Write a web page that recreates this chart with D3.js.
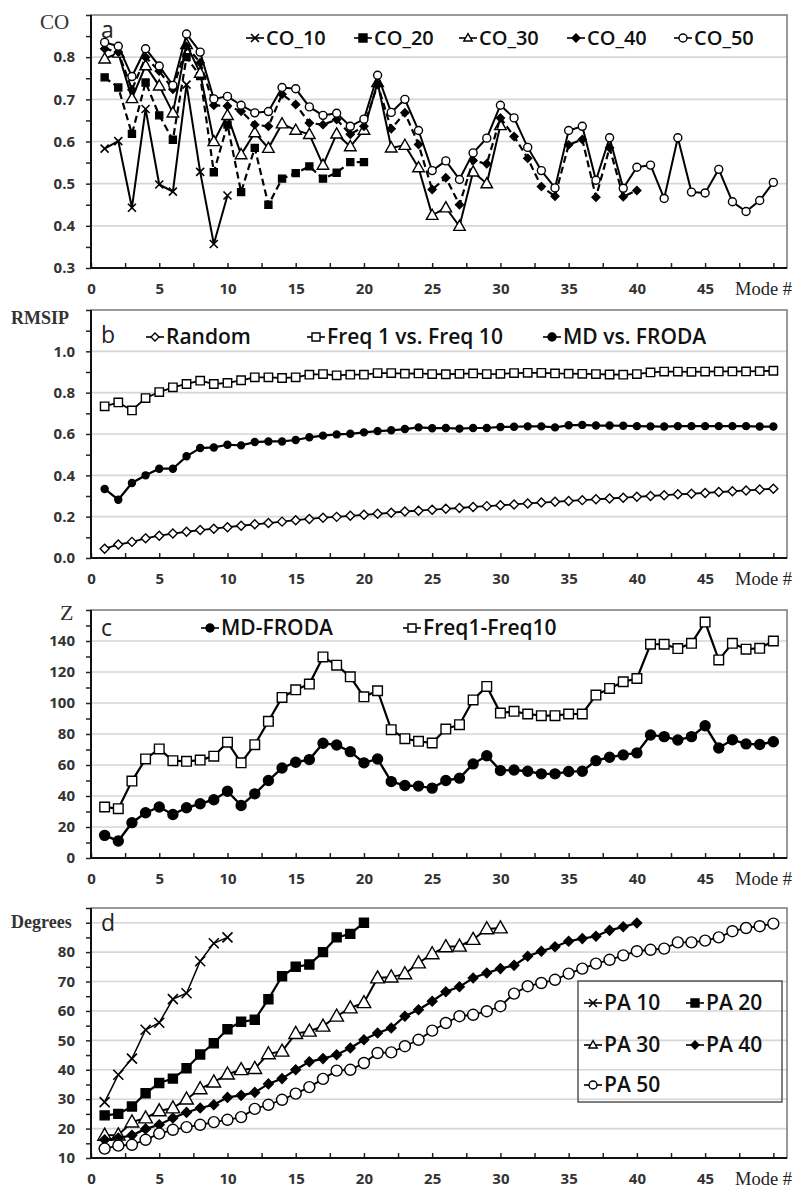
<!DOCTYPE html>
<html lang="en">
<head>
<meta charset="UTF-8">
<title>CO / RMSIP / Z / Degrees</title>
<style>
body { margin: 0; background: #fff; }
</style>
</head>
<body>
<div id="chart"></div>
<script src="https://d3js.org/d3.v7.min.js"></script>
<script>
// ---------- data ----------
const xTicks = [0, 5, 10, 15, 20, 25, 30, 35, 40, 45];
const xTitle = 'Mode #';

// panel a
const coTicks = [0.3, 0.4, 0.5, 0.6, 0.7, 0.8];
const coNames = ['CO_10', 'CO_20', 'CO_30', 'CO_40', 'CO_50'];
const co10 = [0.583, 0.601, 0.443, 0.677, 0.498, 0.481, 0.735, 0.528, 0.357, 0.472];
const co20 = [0.752, 0.728, 0.618, 0.740, 0.662, 0.604, 0.800, 0.755, 0.527, 0.640,
              0.480, 0.585, 0.450, 0.512, 0.525, 0.541, 0.512, 0.526, 0.551, 0.551];
const co30 = [0.796, 0.810, 0.702, 0.780, 0.732, 0.668, 0.830, 0.762, 0.600, 0.662,
              0.569, 0.621, 0.584, 0.642, 0.627, 0.617, 0.544, 0.618, 0.588, 0.627,
              0.740, 0.585, 0.591, 0.538, 0.425, 0.443, 0.399, 0.528, 0.500, 0.638];
const co40 = [0.820, 0.812, 0.723, 0.800, 0.767, 0.724, 0.826, 0.787, 0.686, 0.684,
              0.672, 0.640, 0.636, 0.712, 0.688, 0.644, 0.640, 0.652, 0.617, 0.636,
              0.735, 0.630, 0.668, 0.593, 0.486, 0.514, 0.450, 0.555, 0.547, 0.656,
              0.612, 0.560, 0.493, 0.470, 0.592, 0.605, 0.468, 0.585, 0.469, 0.484];
const co50 = [0.835, 0.826, 0.754, 0.820, 0.779, 0.733, 0.855, 0.812, 0.701, 0.707,
              0.686, 0.668, 0.671, 0.728, 0.725, 0.682, 0.662, 0.667, 0.636, 0.653,
              0.757, 0.669, 0.700, 0.626, 0.531, 0.554, 0.510, 0.573, 0.608, 0.686,
              0.656, 0.586, 0.531, 0.490, 0.626, 0.636, 0.508, 0.609, 0.489, 0.539,
              0.544, 0.465, 0.609, 0.480, 0.478, 0.534, 0.457, 0.434, 0.460, 0.503];

// panel b
const rmsipTicks = [0.0, 0.2, 0.4, 0.6, 0.8, 1.0];
const rmsipNames = ['Random', 'Freq 1 vs. Freq 10', 'MD vs. FRODA'];
const rmsipRandom = [0.045, 0.065, 0.078, 0.095, 0.108, 0.118, 0.127, 0.135, 0.142, 0.149,
                     0.156, 0.163, 0.169, 0.176, 0.183, 0.189, 0.195, 0.199, 0.204, 0.209,
                     0.214, 0.219, 0.225, 0.229, 0.234, 0.238, 0.242, 0.247, 0.251, 0.255,
                     0.259, 0.264, 0.268, 0.272, 0.276, 0.280, 0.284, 0.288, 0.292, 0.296,
                     0.300, 0.304, 0.308, 0.311, 0.315, 0.319, 0.323, 0.327, 0.331, 0.335];
const rmsipFreq = [0.734, 0.753, 0.714, 0.774, 0.803, 0.826, 0.842, 0.858, 0.842, 0.847,
                   0.860, 0.874, 0.874, 0.871, 0.874, 0.887, 0.890, 0.884, 0.887, 0.887,
                   0.895, 0.895, 0.892, 0.893, 0.890, 0.889, 0.891, 0.893, 0.890, 0.891,
                   0.895, 0.896, 0.896, 0.893, 0.892, 0.891, 0.890, 0.888, 0.887, 0.890,
                   0.898, 0.902, 0.902, 0.901, 0.902, 0.903, 0.903, 0.903, 0.904, 0.906];
const rmsipMdFroda = [0.334, 0.282, 0.363, 0.400, 0.432, 0.432, 0.492, 0.532, 0.535, 0.548,
                      0.545, 0.561, 0.564, 0.564, 0.571, 0.584, 0.592, 0.598, 0.601, 0.608,
                      0.614, 0.618, 0.624, 0.632, 0.628, 0.629, 0.626, 0.629, 0.629, 0.634,
                      0.635, 0.637, 0.637, 0.632, 0.642, 0.644, 0.641, 0.641, 0.640, 0.638,
                      0.637, 0.636, 0.638, 0.638, 0.638, 0.638, 0.638, 0.638, 0.636, 0.636];

// panel c
const zTicks = [0, 20, 40, 60, 80, 100, 120, 140];
const zNames = ['MD-FRODA', 'Freq1-Freq10'];
const zMdFroda = [14.6, 11.0, 22.8, 29.2, 32.9, 28.1, 32.4, 35.0, 37.6, 43.1,
                  33.9, 41.4, 50.0, 58.1, 61.8, 63.5, 74.0, 72.9, 68.6, 61.4,
                  63.9, 49.3, 46.8, 46.4, 45.1, 50.0, 51.5, 60.7, 66.0, 56.4,
                  56.8, 56.0, 54.3, 54.3, 55.8, 56.0, 62.8, 65.0, 66.5, 67.8,
                  79.4, 78.3, 76.1, 78.3, 85.3, 71.0, 76.3, 73.6, 73.2, 75.0];
const zFreq = [32.9, 31.8, 49.6, 63.9, 70.4, 62.8, 62.4, 63.2, 65.7, 74.7,
               61.4, 73.1, 88.2, 103.6, 108.5, 112.2, 129.7, 124.4, 116.9, 104.0,
               107.9, 82.8, 77.0, 75.3, 74.2, 83.2, 86.0, 102.0, 110.7, 93.5,
               94.6, 92.9, 91.8, 91.8, 92.9, 92.9, 105.1, 109.4, 113.7, 115.8,
               137.9, 137.9, 135.1, 138.5, 152.2, 127.8, 138.5, 134.7, 135.3, 140.0];

// panel d
const degTicks = [10, 20, 30, 40, 50, 60, 70, 80];
const paNames = ['PA 10', 'PA 20', 'PA 30', 'PA 40', 'PA 50'];
const pa10 = [29.0, 38.3, 43.8, 53.6, 56.0, 64.0, 66.0, 76.9, 83.0, 85.0];
const pa20 = [24.5, 25.0, 27.5, 32.0, 35.5, 37.0, 40.5, 45.2, 49.0, 53.8,
              56.3, 57.0, 64.0, 71.8, 75.0, 75.8, 80.0, 85.0, 86.2, 90.0];
const pa30 = [17.7, 17.8, 22.2, 23.6, 26.0, 27.0, 30.0, 33.5, 35.8, 38.5,
              40.0, 40.4, 45.4, 46.3, 52.3, 53.1, 54.8, 58.2, 61.0, 62.8,
              71.2, 71.5, 72.6, 76.3, 79.4, 81.8, 82.0, 84.3, 87.9, 88.2];
const pa40 = [16.2, 16.8, 17.7, 19.9, 21.3, 23.6, 25.5, 27.0, 28.1, 30.6,
              31.3, 32.3, 35.2, 37.0, 40.0, 42.7, 43.8, 45.1, 47.4, 50.2,
              52.5, 54.2, 58.2, 60.4, 63.3, 66.5, 68.2, 71.2, 72.9, 74.4,
              75.5, 78.6, 80.3, 81.8, 83.7, 84.6, 85.4, 87.4, 88.6, 89.9];
const pa50 = [13.2, 14.2, 14.5, 16.2, 18.3, 19.6, 20.5, 21.3, 22.2, 23.0,
              23.9, 26.7, 28.1, 29.8, 31.9, 34.1, 36.9, 39.7, 40.0, 42.3,
              45.7, 45.9, 48.0, 50.2, 53.3, 55.9, 58.2, 58.7, 59.9, 61.6,
              65.9, 68.4, 69.5, 70.6, 72.7, 74.4, 76.1, 77.4, 78.9, 80.3,
              80.8, 81.2, 83.3, 83.3, 83.9, 85.0, 87.1, 88.2, 88.8, 89.7];

// ---------- drawing ----------
const SANS = '"Open Sans", "Noto Sans", sans-serif';
const SERIF = '"Liberation Serif", "DejaVu Serif", serif';

let svg = d3.select('#chart').append('svg')
    .attr('width', 796)
    .attr('height', 1188);

let x = d3.scaleLinear().domain([0, 51]).range([91, 787]);

function markerPath(type, s) {
    if (type === 'square') return `M${-s},${-s}H${s}V${s}H${-s}Z`;
    if (type === 'diamond') return `M0,${-s}L${s},0L0,${s}L${-s},0Z`;
    if (type === 'triangle') return `M0,${-s * 1.1}L${s * 1.05},${s * 0.75}L${-s * 1.05},${s * 0.75}Z`;
    if (type === 'cross') return `M${-s},${-s}L${s},${s}M${-s},${s}L${s},${-s}`;
    return d3.symbol(d3.symbolCircle, Math.PI * s * s)();
}

function drawMarker(sel, m, s) {
    sel.attr('d', markerPath(m.type, s))
        .attr('fill', m.type === 'cross' ? 'none' : (m.open ? '#fff' : '#000'))
        .attr('stroke', '#000')
        .attr('stroke-width', m.type === 'cross' ? 1.6 : 1.4);
}

function drawPanel(p) {
    let y = d3.scaleLinear().domain(p.yDomain).range([p.bottom, p.top]);
    let g = svg.append('g');
    let x0 = x(0), x1 = x(51);

    // gridlines
    g.selectAll('.grid').data(p.grid).enter().append('line')
        .attr('class', 'grid')
        .attr('x1', x0).attr('x2', x1)
        .attr('y1', d => y(d)).attr('y2', d => y(d))
        .attr('stroke', '#d6d6d6').attr('stroke-width', 1.6);

    // frame
    g.append('rect')
        .attr('x', x0).attr('y', p.top)
        .attr('width', x1 - x0).attr('height', p.bottom - p.top)
        .attr('fill', 'none').attr('stroke', '#808080').attr('stroke-width', 1.6);

    // y labels + minor ticks
    let yAxis = g.append('g').attr('transform', `translate(${x0},0)`)
        .call(d3.axisLeft(y).tickValues(p.yTicks).tickFormat(d3.format(p.fmt)).tickSize(0).tickPadding(16));
    yAxis.select('.domain').remove();
    g.append('g').attr('transform', `translate(${x0},0)`)
        .call(d3.axisLeft(y).tickValues(p.yMinor).tickFormat('').tickSize(5))
        .call(a => a.select('.domain').remove());

    // x labels + ticks
    let xAxis = g.append('g').attr('transform', `translate(0,${p.bottom})`)
        .call(d3.axisBottom(x).tickValues(xTicks).tickSize(0).tickPadding(15));
    xAxis.select('.domain').remove();
    g.append('g').attr('transform', `translate(0,${p.bottom})`)
        .call(d3.axisTop(x).tickValues(d3.range(0, 51, 2.5)).tickFormat('').tickSize(5))
        .call(a => a.select('.domain').remove());

    g.selectAll('.tick line').attr('stroke', '#222').attr('stroke-width', 1.5);
    g.selectAll('.tick text')
        .attr('font-family', SANS).attr('font-size', 15)
        .attr('font-weight', 'bold').attr('fill', '#333');

    // axis lines
    g.append('line').attr('x1', x0).attr('x2', x0).attr('y1', p.top).attr('y2', p.bottom)
        .attr('stroke', '#111').attr('stroke-width', 2);
    g.append('line').attr('x1', x0).attr('x2', x1).attr('y1', p.bottom).attr('y2', p.bottom)
        .attr('stroke', '#111').attr('stroke-width', 2);

    // titles
    g.append('text').attr('x', 792).attr('y', p.bottom + 21).attr('dy', '0.35em')
        .attr('text-anchor', 'end')
        .attr('font-family', SERIF).attr('font-size', 18.5).attr('fill', '#222')
        .text(xTitle);
    g.append('text').attr('x', p.title.x).attr('y', p.title.y).attr('dy', '0.35em')
        .attr('font-family', SERIF).attr('font-size', p.title.size)
        .attr('font-weight', p.title.bold ? 'bold' : 'normal').attr('fill', '#333')
        .text(p.title.text);
    g.append('text').attr('x', x0 + 10).attr('y', p.letterY).attr('dy', '0.35em')
        .attr('font-family', SANS).attr('font-size', 23).attr('fill', '#222')
        .text(p.letter);

    // series: line then markers, in order
    p.series.forEach(s => {
        let line = d3.line().x((d, i) => x(i + 1)).y(d => y(d));
        g.append('path').datum(s.data)
            .attr('d', line)
            .attr('fill', 'none').attr('stroke', '#000')
            .attr('stroke-width', s.width)
            .attr('stroke-dasharray', s.dash || null);
        g.selectAll(null).data(s.data).enter().append('path')
            .attr('transform', (d, i) => `translate(${x(i + 1)},${y(d)})`)
            .call(sel => drawMarker(sel, s, s.size));
    });

    // legend
    if (p.legendBox) {
        g.append('rect').attr('x', p.legendBox[0]).attr('y', p.legendBox[1])
            .attr('width', p.legendBox[2]).attr('height', p.legendBox[3])
            .attr('fill', 'none').attr('stroke', '#555').attr('stroke-width', 1.5);
    }
    p.series.forEach((s, i) => {
        let [lx, ly] = p.legendPos[i];
        g.append('line').attr('x1', lx - 9).attr('x2', lx + 9).attr('y1', ly).attr('y2', ly)
            .attr('stroke', '#000').attr('stroke-width', 1.6);
        g.append('path').attr('transform', `translate(${lx},${ly})`)
            .call(sel => drawMarker(sel, s, 4));
        g.append('text').attr('x', lx + 11).attr('y', ly).attr('dy', '0.35em')
            .attr('font-family', SANS).attr('font-size', p.legendSize)
            .attr('font-weight', 600).attr('fill', '#111')
            .text(s.name);
    });
}

function halfSteps(lo, hi, step) {
    return d3.range(0, Math.round((hi - lo) / step) + 1).map(k => lo + k * step);
}

// panel a
drawPanel({
    top: 15, bottom: 268, yDomain: [0.3, 0.9], yTicks: coTicks, fmt: '.1f',
    grid: [0.4, 0.5, 0.6, 0.7, 0.8], yMinor: halfSteps(0.3, 0.9, 0.05),
    title: { text: 'CO', x: 40, y: 22, size: 21 }, letter: 'a', letterY: 30,
    legendSize: 20,
    legendPos: [[255, 38], [363, 38], [468, 38], [576, 38], [683, 38]],
    series: [
        { name: coNames[0], data: co10, type: 'cross', size: 4, width: 2 },
        { name: coNames[1], data: co20, type: 'square', size: 3.5, width: 2.2, dash: '7,4' },
        { name: coNames[2], data: co30, type: 'triangle', open: true, size: 5.5, width: 2 },
        { name: coNames[3], data: co40, type: 'diamond', size: 4, width: 2.2, dash: '7,4' },
        { name: coNames[4], data: co50, type: 'circle', open: true, size: 4, width: 2 }
    ]
});

// panel b
drawPanel({
    top: 310, bottom: 558, yDomain: [0, 1.2], yTicks: rmsipTicks, fmt: '.1f',
    grid: [0.2, 0.4, 0.6, 0.8, 1.0], yMinor: halfSteps(0, 1.2, 0.1),
    title: { text: 'RMSIP', x: 11, y: 318, size: 18, bold: true }, letter: 'b', letterY: 335,
    legendSize: 21,
    legendPos: [[155, 337], [316, 337], [552, 337]],
    series: [
        { name: rmsipNames[0], data: rmsipRandom, type: 'diamond', open: true, size: 4.5, width: 1.8 },
        { name: rmsipNames[1], data: rmsipFreq, type: 'square', open: true, size: 4.2, width: 1.8 },
        { name: rmsipNames[2], data: rmsipMdFroda, type: 'circle', size: 3.5, width: 2.2 }
    ]
});

// panel c
drawPanel({
    top: 610, bottom: 858, yDomain: [0, 160], yTicks: zTicks, fmt: 'd',
    grid: [20, 40, 60, 80, 100, 120, 140], yMinor: halfSteps(0, 160, 10),
    title: { text: 'Z', x: 60, y: 612, size: 22 }, letter: 'c', letterY: 628,
    legendSize: 21,
    legendPos: [[210, 628], [412, 628]],
    series: [
        { name: zNames[0], data: zMdFroda, type: 'circle', size: 5, width: 2.4 },
        { name: zNames[1], data: zFreq, type: 'square', open: true, size: 4.8, width: 2.2 }
    ]
});

// panel d
drawPanel({
    top: 908, bottom: 1158, yDomain: [10, 95], yTicks: degTicks, fmt: 'd',
    grid: [20, 30, 40, 50, 60, 70, 80, 90], yMinor: halfSteps(10, 95, 5),
    title: { text: 'Degrees', x: 11, y: 922, size: 18, bold: true }, letter: 'd', letterY: 923,
    legendSize: 21,
    legendBox: [578, 981, 204, 121],
    legendPos: [[593, 1003], [695, 1003], [593, 1045], [695, 1045], [593, 1085]],
    series: [
        { name: paNames[0], data: pa10, type: 'cross', size: 5, width: 1.5 },
        { name: paNames[1], data: pa20, type: 'square', size: 4.5, width: 2.2 },
        { name: paNames[2], data: pa30, type: 'triangle', open: true, size: 6.5, width: 2 },
        { name: paNames[3], data: pa40, type: 'diamond', size: 4.8, width: 2.2 },
        { name: paNames[4], data: pa50, type: 'circle', open: true, size: 5.5, width: 1.8 }
    ]
});
</script>
</body>
</html>
